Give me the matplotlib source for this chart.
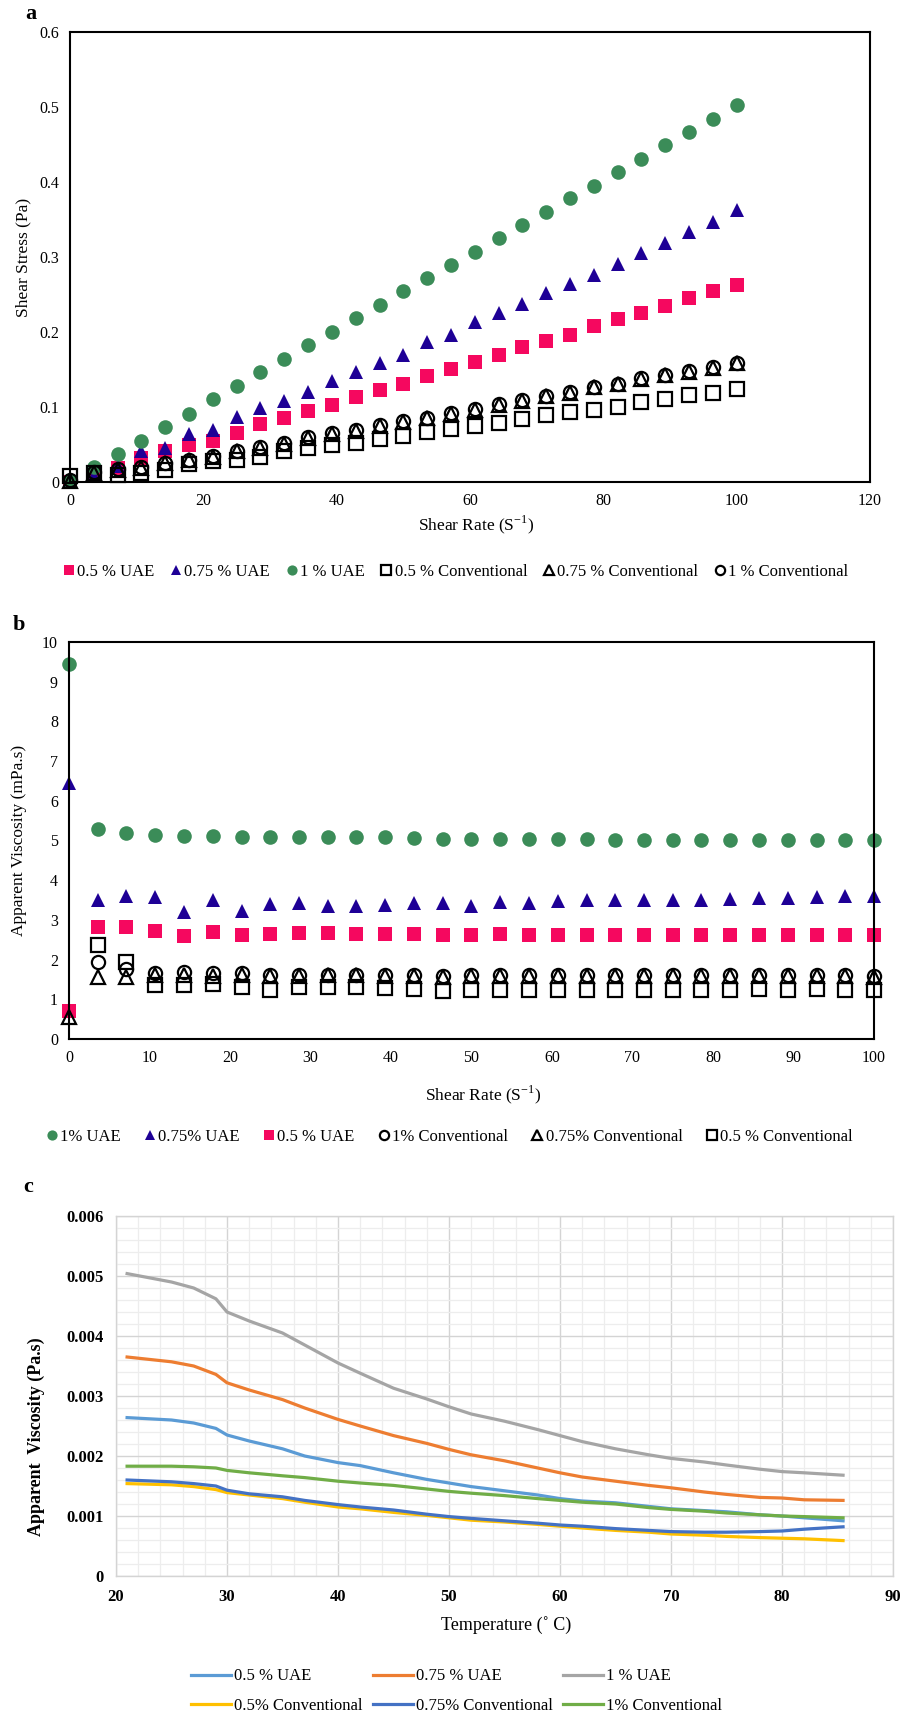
import numpy as np
import matplotlib
matplotlib.use('Agg')
import matplotlib.pyplot as plt

plt.rcParams['font.family'] = ['Liberation Serif', 'DejaVu Serif']
plt.rcParams['mathtext.fontset'] = 'custom'
plt.rcParams['mathtext.rm'] = 'Liberation Serif'

# shear rate steps (S^-1), shared by panels a and b
shear_rate = [0, 3.57, 7.14, 10.71, 14.29, 17.86, 21.43, 25.0, 28.57, 32.14,
              35.71, 39.29, 42.86, 46.43, 50.0, 53.57, 57.14, 60.71, 64.29,
              67.86, 71.43, 75.0, 78.57, 82.14, 85.71, 89.29, 92.86, 96.43, 100.0]

# a: shear stress (Pa)
stress_uae_05 = [0.0, 0.008, 0.019, 0.032, 0.041, 0.049, 0.055, 0.065, 0.077, 0.085,
                 0.095, 0.103, 0.113, 0.122, 0.130, 0.141, 0.150, 0.160, 0.169,
                 0.180, 0.188, 0.196, 0.208, 0.217, 0.225, 0.235, 0.245, 0.254, 0.263]
stress_uae_075 = [0.003, 0.008, 0.021, 0.041, 0.046, 0.064, 0.069, 0.087, 0.099, 0.108,
                  0.120, 0.134, 0.146, 0.159, 0.169, 0.186, 0.196, 0.213, 0.225,
                  0.237, 0.252, 0.264, 0.276, 0.290, 0.305, 0.318, 0.333, 0.347, 0.363]
stress_uae_1 = [0.001, 0.020, 0.037, 0.055, 0.073, 0.091, 0.110, 0.128, 0.146, 0.164,
                0.182, 0.200, 0.219, 0.236, 0.254, 0.272, 0.289, 0.307, 0.325,
                0.342, 0.360, 0.378, 0.395, 0.413, 0.431, 0.449, 0.467, 0.484, 0.502]
stress_conv_05 = [0.008, 0.012, 0.009, 0.012, 0.016, 0.024, 0.028, 0.030, 0.034, 0.041,
                  0.046, 0.049, 0.052, 0.057, 0.062, 0.067, 0.071, 0.075, 0.079,
                  0.084, 0.089, 0.093, 0.096, 0.100, 0.107, 0.110, 0.116, 0.118, 0.124]
stress_conv_075 = [0.002, 0.012, 0.016, 0.019, 0.025, 0.029, 0.034, 0.041, 0.046, 0.051,
                   0.059, 0.064, 0.068, 0.075, 0.080, 0.085, 0.091, 0.096, 0.103,
                   0.108, 0.114, 0.119, 0.126, 0.130, 0.137, 0.142, 0.147, 0.152, 0.158]
stress_conv_1 = [0.003, 0.013, 0.017, 0.020, 0.026, 0.030, 0.035, 0.042, 0.047, 0.052,
                 0.060, 0.065, 0.069, 0.076, 0.081, 0.086, 0.092, 0.097, 0.104,
                 0.109, 0.115, 0.120, 0.127, 0.131, 0.138, 0.143, 0.148, 0.153, 0.159]

# b: apparent viscosity (mPa.s); nan where no point is shown
visc_uae_1 = [9.45, 5.28, 5.20, 5.15, 5.12, 5.12, 5.10, 5.08, 5.10, 5.08,
              5.08, 5.08, 5.07, 5.05, 5.05, 5.05, 5.03, 5.03, 5.03,
              5.02, 5.02, 5.02, 5.01, 5.00, 5.00, 5.00, 5.00, 5.00, 5.00]
visc_uae_075 = [6.45, 3.49, 3.61, 3.57, 3.21, 3.49, 3.23, 3.40, 3.43, 3.34,
                3.34, 3.38, 3.43, 3.43, 3.36, 3.46, 3.43, 3.48, 3.49,
                3.49, 3.51, 3.51, 3.51, 3.53, 3.55, 3.56, 3.58, 3.59, 3.60]
visc_uae_05 = [0.70, 2.83, 2.81, 2.71, 2.59, 2.69, 2.62, 2.64, 2.66, 2.66,
               2.64, 2.64, 2.64, 2.61, 2.61, 2.65, 2.61, 2.61, 2.61,
               2.61, 2.61, 2.61, 2.61, 2.62, 2.62, 2.61, 2.61, 2.61, 2.62]
visc_conv_1 = [np.nan, 1.93, 1.76, 1.66, 1.68, 1.66, 1.66, 1.60, 1.60, 1.62,
               1.62, 1.60, 1.60, 1.58, 1.60, 1.60, 1.60, 1.60, 1.60,
               1.60, 1.60, 1.60, 1.60, 1.60, 1.60, 1.60, 1.60, 1.60, 1.59]
visc_conv_075 = [0.55, 1.55, 1.55, 1.61, 1.61, 1.58, 1.60, 1.58, 1.58, 1.60,
                 1.60, 1.58, 1.58, 1.56, 1.58, 1.58, 1.58, 1.58, 1.58,
                 1.58, 1.58, 1.58, 1.58, 1.58, 1.58, 1.58, 1.58, 1.58, 1.57]
visc_conv_05 = [np.nan, 2.37, 1.93, 1.36, 1.36, 1.39, 1.30, 1.24, 1.30, 1.32,
                1.30, 1.28, 1.26, 1.20, 1.24, 1.24, 1.24, 1.24, 1.24,
                1.24, 1.24, 1.24, 1.24, 1.24, 1.25, 1.24, 1.25, 1.24, 1.24]

# c: apparent viscosity (Pa.s) against temperature
temp = [21, 25, 27, 29, 30, 32, 35, 37, 40, 42, 45, 48, 50, 52, 55, 58, 60, 62,
        65, 68, 70, 73, 75, 78, 80, 82, 85.5]
t_uae_05 = [0.00264, 0.00260, 0.00255, 0.00246, 0.00235, 0.00225, 0.00212, 0.00200,
            0.00189, 0.00184, 0.00172, 0.00161, 0.00155, 0.00149, 0.00142, 0.00135,
            0.00129, 0.00125, 0.00122, 0.00116, 0.00112, 0.00109, 0.00107, 0.00102,
            0.00100, 0.00097, 0.00092]
t_uae_075 = [0.00365, 0.00357, 0.00350, 0.00336, 0.00322, 0.00310, 0.00294, 0.00280,
             0.00261, 0.00250, 0.00234, 0.00221, 0.00211, 0.00202, 0.00192, 0.00180,
             0.00172, 0.00165, 0.00158, 0.00151, 0.00147, 0.00140, 0.00136, 0.00131,
             0.00130, 0.00127, 0.00126]
t_uae_1 = [0.00504, 0.00490, 0.00480, 0.00462, 0.00440, 0.00425, 0.00405, 0.00385,
           0.00355, 0.00338, 0.00313, 0.00295, 0.00282, 0.00270, 0.00258, 0.00244,
           0.00234, 0.00224, 0.00212, 0.00202, 0.00196, 0.00190, 0.00185, 0.00178,
           0.00174, 0.00172, 0.00168]
t_conv_05 = [0.00154, 0.00152, 0.00149, 0.00144, 0.00139, 0.00135, 0.00129, 0.00123,
             0.00115, 0.00112, 0.00106, 0.00101, 0.00097, 0.00093, 0.00090, 0.00086,
             0.00083, 0.00080, 0.00076, 0.00073, 0.00070, 0.00068, 0.00066, 0.00064,
             0.00063, 0.00062, 0.00059]
t_conv_075 = [0.00160, 0.00157, 0.00154, 0.00150, 0.00143, 0.00137, 0.00132, 0.00126,
              0.00119, 0.00115, 0.00110, 0.00103, 0.00099, 0.00096, 0.00092, 0.00088,
              0.00085, 0.00083, 0.00079, 0.00076, 0.00074, 0.00073, 0.00073, 0.00074,
              0.00075, 0.00078, 0.00082]
t_conv_1 = [0.00183, 0.00183, 0.00182, 0.00180, 0.00176, 0.00172, 0.00167, 0.00164,
            0.00158, 0.00155, 0.00151, 0.00145, 0.00141, 0.00138, 0.00134, 0.00129,
            0.00126, 0.00123, 0.00120, 0.00114, 0.00111, 0.00108, 0.00105, 0.00102,
            0.00100, 0.00099, 0.00097]

PINK = '#F5085F'
INDIGO = '#1E0096'
GREEN = '#3B8C58'

W, H = 904, 1717
fig = plt.figure(figsize=(W / 100, H / 100), dpi=100)


def box(l, t, r, b):
    return [l / W, 1 - b / H, (r - l) / W, (b - t) / H]


def scatter_style(ax):
    for s in ax.spines.values():
        s.set_linewidth(1.5)
        s.set_color('black')
    ax.tick_params(length=0, labelsize=11.5, pad=8)


# ---- panel a
ax = fig.add_axes(box(70, 32, 870, 482))
h = []
h += ax.plot(shear_rate, stress_uae_05, 's', color=PINK, ms=9.5, mew=0, clip_on=False)
h += ax.plot(shear_rate, stress_uae_075, '^', color=INDIGO, ms=9.5, mew=0, clip_on=False)
h += ax.plot(shear_rate, stress_uae_1, 'o', color=GREEN, ms=10.5, mew=0, clip_on=False)
h += ax.plot(shear_rate, stress_conv_05, 's', mfc='none', mec='black', ms=9.5, mew=1.6, clip_on=False)
h += ax.plot(shear_rate, stress_conv_075, '^', mfc='none', mec='black', ms=9.5, mew=1.6, clip_on=False)
h += ax.plot(shear_rate, stress_conv_1, 'o', mfc='none', mec='black', ms=9.5, mew=1.6, clip_on=False)
ax.set_xlim(0, 120)
ax.set_ylim(0, 0.6)
ax.set_xticks(np.arange(0, 121, 20))
ax.set_yticks(np.arange(0, 0.61, 0.1))
ax.set_yticklabels(['0', '0.1', '0.2', '0.3', '0.4', '0.5', '0.6'])
scatter_style(ax)
ax.set_xlabel(r'Shear Rate (S$^{\mathregular{-1}}$)', fontsize=12.5)
ax.set_ylabel('Shear Stress (Pa)', fontsize=12.5)
ax.xaxis.set_label_coords(0.508, -0.096)
ax.xaxis.label.set_va('center')
ax.yaxis.set_label_coords(-0.058, 0.5)
ax.yaxis.label.set_va('center')
fig.legend(h, ['0.5 % UAE', '0.75 % UAE', '1 % UAE', '0.5 % Conventional',
               '0.75 % Conventional', '1 % Conventional'],
           loc='center', bbox_to_anchor=(0.504, 1 - 572 / H), ncol=6, frameon=False,
           fontsize=12, handlelength=0.7, handletextpad=0.15, columnspacing=0.95,
           markerscale=0.7)
fig.text(31 / W, 1 - 14 / H, 'a', fontsize=16, fontweight='bold', ha='center', va='center')

# ---- panel b
ax = fig.add_axes(box(69, 642, 874, 1039))
h = []
h += ax.plot(shear_rate, visc_uae_1, 'o', color=GREEN, ms=10.5, mew=0, clip_on=False)
h += ax.plot(shear_rate, visc_uae_075, '^', color=INDIGO, ms=9.5, mew=0, clip_on=False)
h += ax.plot(shear_rate, visc_uae_05, 's', color=PINK, ms=10, mew=0, clip_on=False)
h += ax.plot(shear_rate, visc_conv_1, 'o', mfc='none', mec='black', ms=9.5, mew=1.6, clip_on=False)
h += ax.plot(shear_rate, visc_conv_075, '^', mfc='none', mec='black', ms=9.5, mew=1.6, clip_on=False)
h += ax.plot(shear_rate, visc_conv_05, 's', mfc='none', mec='black', ms=10, mew=1.6, clip_on=False)
ax.set_xlim(0, 100)
ax.set_ylim(0, 10)
ax.set_xticks(np.arange(0, 101, 10))
ax.set_yticks(np.arange(0, 11, 1))
scatter_style(ax)
ax.set_xlabel(r'Shear Rate (S$^{\mathregular{-1}}$)', fontsize=12.5)
ax.set_ylabel('Apparent Viscosity (mPa.s)', fontsize=12.5)
ax.xaxis.set_label_coords(0.515, -0.141)
ax.xaxis.label.set_va('center')
ax.yaxis.set_label_coords(-0.062, 0.5)
ax.yaxis.label.set_va('center')
fig.legend(h, ['1% UAE', '0.75% UAE', '0.5 % UAE', '1% Conventional',
               '0.75% Conventional', '0.5 % Conventional'],
           loc='center', bbox_to_anchor=(0.497, 1 - 1137 / H), ncol=6, frameon=False,
           fontsize=12, handlelength=0.7, handletextpad=0.15, columnspacing=1.4,
           markerscale=0.7)
fig.text(19 / W, 1 - 625 / H, 'b', fontsize=16, fontweight='bold', ha='center', va='center')

# ---- panel c
ax = fig.add_axes(box(116, 1216, 893, 1576))
series = [(t_uae_05, '#5B9BD5', '0.5 % UAE'),
          (t_uae_075, '#ED7D31', '0.75 % UAE'),
          (t_uae_1, '#A5A5A5', '1 % UAE'),
          (t_conv_05, '#FFC000', '0.5% Conventional'),
          (t_conv_075, '#4472C4', '0.75% Conventional'),
          (t_conv_1, '#70AD47', '1% Conventional')]
lines = {}
for vals, col, lab in series:
    lines[lab], = ax.plot(temp, vals, color=col, lw=2.3, label=lab)
ax.set_xlim(20, 90)
ax.set_ylim(0, 0.006)
ax.set_xticks(np.arange(20, 91, 10))
ax.set_yticks(np.arange(0, 0.0061, 0.001))
ax.set_yticklabels(['0', '0.001', '0.002', '0.003', '0.004', '0.005', '0.006'])
ax.set_xticks(np.arange(20, 91, 2), minor=True)
ax.set_yticks(np.arange(0, 0.0061, 0.0002), minor=True)
ax.grid(True, which='major', color='#D4D4D4', lw=1.0)
ax.grid(True, which='minor', color='#EDEDED', lw=0.9)
ax.set_axisbelow(True)
for s in ax.spines.values():
    s.set_color('#D4D4D4')
    s.set_linewidth(1.0)
ax.tick_params(which='both', length=0, labelsize=12, pad=9)
for lbl in ax.get_xticklabels() + ax.get_yticklabels():
    lbl.set_fontweight('bold')
ax.set_xlabel('Temperature (˚ C)', fontsize=13)
ax.set_ylabel('Apparent  Viscosity (Pa.s)', fontsize=13, fontweight='bold')
ax.xaxis.set_label_coords(0.502, -0.136)
ax.xaxis.label.set_va('center')
ax.yaxis.set_label_coords(-0.103, 0.386)
ax.yaxis.label.set_va('center')
order = ['0.5 % UAE', '0.5% Conventional', '0.75 % UAE', '0.75% Conventional',
         '1 % UAE', '1% Conventional']
fig.legend([lines[k] for k in order], order, loc='center',
           bbox_to_anchor=(0.505, 1 - 1691 / H), ncol=3, frameon=False, fontsize=12,
           handlelength=2.4, handletextpad=0.2, columnspacing=0.6, labelspacing=0.8)
fig.text(28 / W, 1 - 1187 / H, 'c', fontsize=16, fontweight='bold', ha='center', va='center')

fig.savefig('out.png', dpi=100)
